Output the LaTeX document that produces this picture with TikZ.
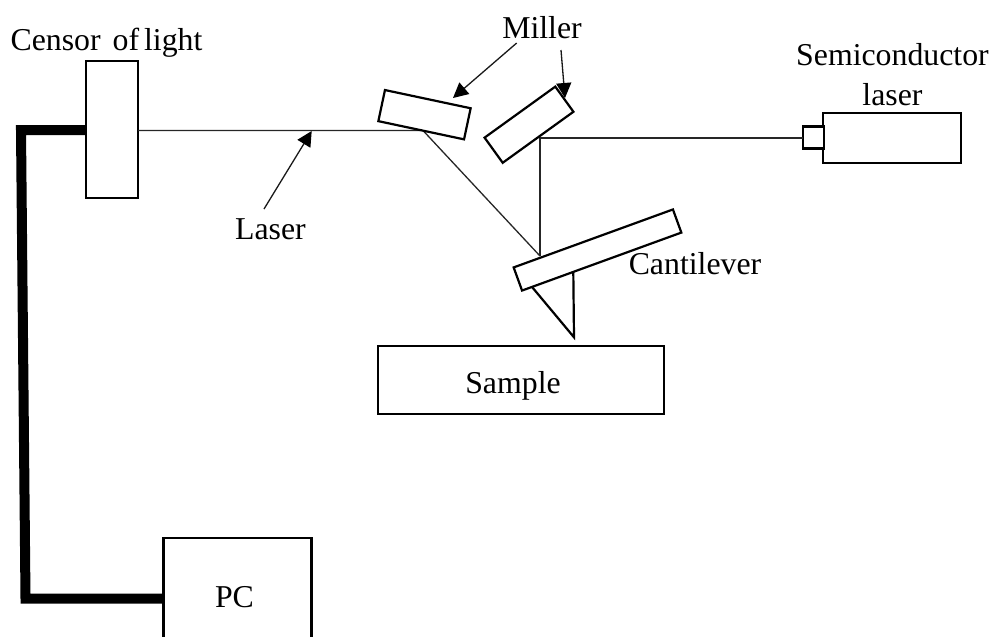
\documentclass[tikz,border=0pt]{standalone}
\usepackage{fontspec}
\setmainfont{Liberation Serif}
\usetikzlibrary{arrows.meta}
\tikzset{
  box/.style={draw=black,line width=2.2pt,fill=white,inner sep=0pt,outer sep=0pt},
  lbl/.style={inner sep=0pt,outer sep=0pt,anchor=base,font=\fontsize{31.8}{37}\selectfont},
  beam/.style={draw=black!85,line width=1.3pt},
  wire/.style={draw=black,line width=10pt,line join=miter},
  callout/.style={draw=black!90,line width=1.3pt,-{Triangle[length=15pt,width=15pt,color=black]}},
}
\begin{document}
\begin{tikzpicture}[x=1pt,y=-1pt]
\useasboundingbox (0,0) rectangle (991,637);
\clip (0,0) rectangle (991,637);
% named junctions
\coordinate (mirrorHit) at (423,130.5);
\coordinate (canHit) at (540,256);
\coordinate (turn) at (540,138);
\coordinate (wireTop) at (21,130);
\coordinate (wireBottom) at (25.5,598.5);
\coordinate (tipA) at (532.3,287.3);
\coordinate (tipB) at (574,337.3);
\coordinate (tipC) at (573.3,271.7);
\coordinate (laserTail) at (264,209);
\coordinate (laserTip) at (311.7,131);
\coordinate (millerTailA) at (516.7,43);
\coordinate (millerTipA) at (453,98);
\coordinate (millerTailB) at (561,50);
\coordinate (millerTipB) at (565,98);
% boxes
\node[box,minimum width=52pt,minimum height=137pt] (censor) at (112,129.5) {};
\node[box,minimum width=148pt,minimum height=118pt] (pc) at (237.5,597) {};
\node[box,minimum width=137.5pt,minimum height=50.5pt] (semilaser) at (892,138) {};
\node[box,minimum width=21pt,minimum height=22pt] (aperture) at (813.5,137.5) {};
\node[box,minimum width=286pt,minimum height=68pt] (sample) at (521,380) {};
% beams
\draw[beam] (censor.east |- mirrorHit) -- (mirrorHit) -- (canHit);
\draw[beam] (aperture.west |- turn) -- (turn) -- (canHit);
\node[box,minimum width=87.6pt,minimum height=31.8pt,rotate=-12] (mirrorA) at (424.5,114.7) {};
\node[box,minimum width=87.2pt,minimum height=31pt,rotate=35.8] (mirrorB) at (529,124.7) {};
\node[box,minimum width=169.5pt,minimum height=24.6pt,rotate=20] (cantilever) at (597.5,250) {};
\draw[draw=black,line width=2.2pt,line join=miter] (tipA) -- (tipB) -- (tipC);
% thick cable
\draw[wire] (censor.west |- wireTop) -- (wireTop) -- (wireBottom) -- (wireBottom -| pc.west);
% callouts
\draw[callout] (laserTail) -- (laserTip);
\draw[callout] (millerTailA) -- (millerTipA);
\draw[callout] (millerTailB) -- (millerTipB);
% labels
\node[lbl] (censorlabel) at (106.5,50) {Censor\hskip 12pt of\hskip 5pt light};
\node[lbl] (laserlabel) at (270.5,239) {Laser};
\node[lbl] (millerlabel) at (542,38) {Miller};
\node[lbl] (semilabel) at (892.5,65) {Semiconductor};
\node[lbl] (semilabelb) at (892.5,105) {laser};
\node[lbl] (cantilabel) at (695,274) {Cantilever};
\node[lbl] (samplelabel) at (513,393) {Sample};
\node[lbl] (pclabel) at (234.5,607) {PC};
\end{tikzpicture}
\end{document}
